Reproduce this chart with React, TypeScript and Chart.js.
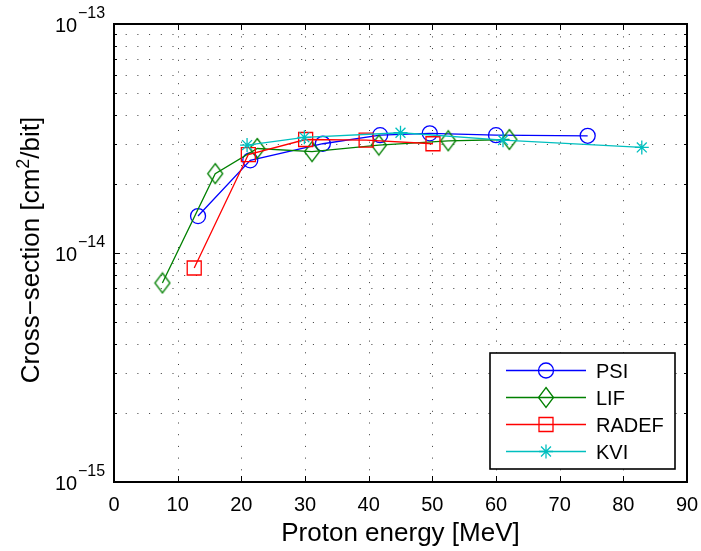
import React, { useEffect, useRef } from 'react';
import { Chart, registerables } from 'chart.js';

Chart.register(...registerables);

// ---- data ----
const psiEnergy = [13.2, 21.4, 32.8, 41.8, 49.6, 60.0, 74.4];
const psiValues = [1.45e-14, 2.54e-14, 3.0e-14, 3.27e-14, 3.33e-14, 3.27e-14, 3.25e-14];

const lifEnergy = [7.6, 15.9, 22.5, 31.1, 41.6, 52.5, 62.1];
const lifValues = [7.4e-15, 2.22e-14, 2.86e-14, 2.77e-14, 2.96e-14, 3.09e-14, 3.13e-14];

const radefEnergy = [12.6, 21.1, 30.1, 39.6, 50.1];
const radefValues = [8.6e-15, 2.69e-14, 3.13e-14, 3.11e-14, 3.0e-14];

const kviEnergy = [20.9, 29.9, 45.0, 61.1, 82.9];
const kviValues = [2.96e-14, 3.2e-14, 3.35e-14, 3.11e-14, 2.89e-14];

const seriesNames = ['PSI', 'LIF', 'RADEF', 'KVI'];
const seriesColors = ['#0000FF', '#008000', '#FF0000', '#00BFBF'];

const xTickValues = [0, 10, 20, 30, 40, 50, 60, 70, 80, 90];
const xTickLabels = ['0', '10', '20', '30', '40', '50', '60', '70', '80', '90'];
const yMinorValues = [
  2e-15, 3e-15, 4e-15, 5e-15, 6e-15, 7e-15, 8e-15, 9e-15,
  2e-14, 3e-14, 4e-14, 5e-14, 6e-14, 7e-14, 8e-14, 9e-14,
];
const yDecadeValues = [1e-15, 1e-14, 1e-13];
const yDecadeExponents = ['\u221215', '\u221214', '\u221213'];

const xTitle = 'Proton energy [MeV]';
const yTitleMain = 'Cross\u2212section [cm';
const yTitleSup = '2';
const yTitleEnd = '/bit]';

const FONT = "'Liberation Sans', Arial, Helvetica, sans-serif";

function makeDiamond(color: string): HTMLCanvasElement {
  const c = document.createElement('canvas');
  c.width = 18;
  c.height = 23;
  const g = c.getContext('2d')!;
  g.strokeStyle = color;
  g.lineWidth = 1.3;
  g.beginPath();
  g.moveTo(9, 1.5);
  g.lineTo(16.5, 11.5);
  g.lineTo(9, 21.5);
  g.lineTo(1.5, 11.5);
  g.closePath();
  g.stroke();
  return c;
}

function drawMarker(ctx: CanvasRenderingContext2D, kind: number, x: number, y: number, color: string) {
  ctx.save();
  ctx.strokeStyle = color;
  ctx.lineWidth = 1.3;
  ctx.beginPath();
  if (kind === 0) {
    ctx.arc(x, y, 7.5, 0, Math.PI * 2);
  } else if (kind === 1) {
    ctx.moveTo(x, y - 10);
    ctx.lineTo(x + 7.5, y);
    ctx.lineTo(x, y + 10);
    ctx.lineTo(x - 7.5, y);
    ctx.closePath();
  } else if (kind === 2) {
    ctx.rect(x - 7, y - 7, 14, 14);
  } else {
    const r = 7;
    for (let i = 0; i < 4; i++) {
      const a = (i * Math.PI) / 4;
      ctx.moveTo(x - r * Math.cos(a), y - r * Math.sin(a));
      ctx.lineTo(x + r * Math.cos(a), y + r * Math.sin(a));
    }
  }
  ctx.stroke();
  ctx.restore();
}

const framePlugin = {
  id: 'matlabFrame',
  beforeDatasetsDraw(chart: any) {
    const { ctx, chartArea: a, scales } = chart;
    const xs = scales.x;
    const ys = scales.y;
    ctx.save();
    ctx.strokeStyle = '#3a3a3a';
    ctx.lineWidth = 1;
    ctx.setLineDash([1, 10.7]);
    for (const v of xTickValues) {
      if (v === 0 || v === 90) continue;
      const px = Math.round(xs.getPixelForValue(v)) + 0.5;
      ctx.beginPath();
      ctx.moveTo(px, a.bottom);
      ctx.lineTo(px, a.top);
      ctx.stroke();
    }
    const all = [...yMinorValues, 1e-14];
    for (const v of all) {
      const py = Math.round(ys.getPixelForValue(v)) + 0.5;
      ctx.beginPath();
      ctx.moveTo(a.left, py);
      ctx.lineTo(a.right, py);
      ctx.stroke();
    }
    ctx.restore();
  },
  afterDatasetsDraw(chart: any) {
    const { ctx, chartArea: a, scales } = chart;
    const xs = scales.x;
    const ys = scales.y;
    ctx.save();
    ctx.setLineDash([]);
    ctx.strokeStyle = '#000';
    ctx.fillStyle = '#000';

    ctx.lineWidth = 1;
    ctx.beginPath();
    for (const v of xTickValues) {
      const px = Math.round(xs.getPixelForValue(v)) + 0.5;
      ctx.moveTo(px, a.bottom);
      ctx.lineTo(px, a.bottom - 6);
      ctx.moveTo(px, a.top);
      ctx.lineTo(px, a.top + 6);
    }
    for (const v of yDecadeValues) {
      const py = Math.round(ys.getPixelForValue(v)) + 0.5;
      ctx.moveTo(a.left, py);
      ctx.lineTo(a.left + 6, py);
      ctx.moveTo(a.right, py);
      ctx.lineTo(a.right - 6, py);
    }
    for (const v of yMinorValues) {
      const py = Math.round(ys.getPixelForValue(v)) + 0.5;
      ctx.moveTo(a.left, py);
      ctx.lineTo(a.left + 3, py);
      ctx.moveTo(a.right, py);
      ctx.lineTo(a.right - 3, py);
    }
    ctx.stroke();

    ctx.lineWidth = 2;
    ctx.strokeRect(a.left, a.top, a.right - a.left, a.bottom - a.top);

    ctx.font = `20px ${FONT}`;
    ctx.textAlign = 'center';
    ctx.textBaseline = 'alphabetic';
    xTickValues.forEach((v, i) => {
      ctx.fillText(xTickLabels[i], xs.getPixelForValue(v), a.bottom + 29);
    });

    yDecadeValues.forEach((v, i) => {
      const py = ys.getPixelForValue(v);
      ctx.textAlign = 'left';
      ctx.font = `20px ${FONT}`;
      ctx.fillText('10', 55, py + 7.5);
      ctx.font = `16px ${FONT}`;
      ctx.fillText(yDecadeExponents[i], 78, py - 6);
    });

    ctx.font = `26px ${FONT}`;
    ctx.textAlign = 'center';
    ctx.fillText(xTitle, (a.left + a.right) / 2, 540.5);

    ctx.save();
    ctx.translate(39, 250);
    ctx.rotate(-Math.PI / 2);
    ctx.textAlign = 'left';
    ctx.font = `26px ${FONT}`;
    const w1 = ctx.measureText(yTitleMain).width;
    const w3 = ctx.measureText(yTitleEnd).width;
    ctx.font = `18px ${FONT}`;
    const w2 = ctx.measureText(yTitleSup).width;
    const start = -(w1 + w2 + w3) / 2;
    ctx.font = `26px ${FONT}`;
    ctx.fillText(yTitleMain, start, 0);
    ctx.fillText(yTitleEnd, start + w1 + w2, 0);
    ctx.font = `18px ${FONT}`;
    ctx.fillText(yTitleSup, start + w1, -10);
    ctx.restore();

    const lx = 490, ly = 353, lw = 185, lh = 116;
    ctx.fillStyle = '#fff';
    ctx.fillRect(lx, ly, lw, lh);
    ctx.strokeStyle = '#000';
    ctx.lineWidth = 1.6;
    ctx.strokeRect(lx, ly, lw, lh);
    const rows = [370.5, 397.5, 424.5, 451.5];
    seriesNames.forEach((name, i) => {
      const y = rows[i];
      ctx.strokeStyle = seriesColors[i];
      ctx.lineWidth = 1.6;
      ctx.beginPath();
      ctx.moveTo(506, y);
      ctx.lineTo(586, y);
      ctx.stroke();
      drawMarker(ctx, i, 546, y, seriesColors[i]);
      ctx.fillStyle = '#000';
      ctx.font = `20px ${FONT}`;
      ctx.textAlign = 'left';
      ctx.fillText(name, 596, y + 7.5);
    });
    ctx.restore();
  },
};

function toPoints(xs: number[], ys: number[]) {
  return xs.map((x, i) => ({ x, y: ys[i] }));
}

export default function App() {
  const ref = useRef<HTMLCanvasElement | null>(null);

  useEffect(() => {
    if (!ref.current) return;
    const diamond = makeDiamond(seriesColors[1]);
    const common = { borderWidth: 1.3, tension: 0, fill: false, pointBorderWidth: 1.3, pointBackgroundColor: 'rgba(0,0,0,0)' };
    const chart = new Chart(ref.current, {
      type: 'line',
      data: {
        datasets: [
          { ...common, label: seriesNames[0], data: toPoints(psiEnergy, psiValues), borderColor: seriesColors[0], pointBorderColor: seriesColors[0], pointStyle: 'circle', pointRadius: 7.5, order: 4 },
          { ...common, label: seriesNames[1], data: toPoints(lifEnergy, lifValues), borderColor: seriesColors[1], pointBorderColor: seriesColors[1], pointStyle: diamond, pointRadius: 10, order: 3 },
          { ...common, label: seriesNames[2], data: toPoints(radefEnergy, radefValues), borderColor: seriesColors[2], pointBorderColor: seriesColors[2], pointStyle: 'rect', pointRadius: 9.9, order: 2 },
          { ...common, label: seriesNames[3], data: toPoints(kviEnergy, kviValues), borderColor: seriesColors[3], pointBorderColor: seriesColors[3], pointStyle: 'star', pointRadius: 7, order: 1 },
        ] as any,
      },
      options: {
        responsive: false,
        animation: false,
        devicePixelRatio: 1,
        layout: { padding: { left: 114, top: 24, right: 14, bottom: 69 } },
        plugins: { legend: { display: false }, tooltip: { enabled: false } },
        scales: {
          x: {
            type: 'linear',
            min: 0,
            max: 90,
            grid: { display: false },
            ticks: { display: false },
            border: { display: false },
            afterFit: (s: any) => { s.height = 0; },
          },
          y: {
            type: 'logarithmic',
            min: 1e-15,
            max: 1e-13,
            grid: { display: false },
            ticks: { display: false },
            border: { display: false },
            afterFit: (s: any) => { s.width = 0; },
          },
        },
      } as any,
      plugins: [framePlugin],
    });
    return () => chart.destroy();
  }, []);

  return (
    <div style={{ position: 'absolute', left: 0, top: 0, width: 701, height: 551, background: '#fff' }}>
      <canvas ref={ref} width={701} height={551} style={{ display: 'block' }} />
    </div>
  );
}
